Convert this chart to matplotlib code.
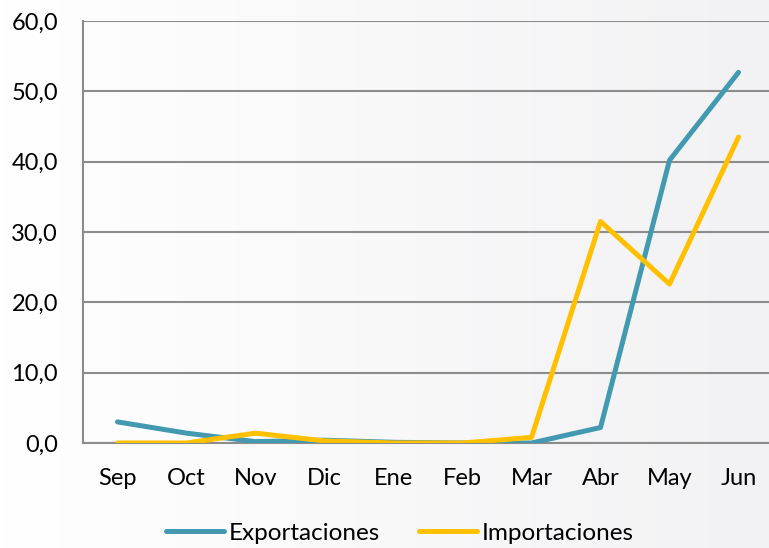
import numpy as np
import matplotlib.pyplot as plt
from matplotlib.colors import LinearSegmentedColormap
from matplotlib.ticker import FuncFormatter

meses = ['Sep', 'Oct', 'Nov', 'Dic', 'Ene', 'Feb', 'Mar', 'Abr', 'May', 'Jun']
exportaciones = [3.0, 1.4, 0.2, 0.4, 0.1, 0.0, 0.0, 2.2, 40.2, 52.7]
importaciones = [0.0, 0.0, 1.4, 0.3, 0.0, 0.0, 0.8, 31.5, 22.6, 43.5]

plt.rcParams['font.family'] = ['Lato', 'DejaVu Sans']

fig = plt.figure(figsize=(7.69, 5.48), dpi=100)

# fondo degradado blanco -> gris claro
bg = fig.add_axes([0, 0, 1, 1], zorder=-10)
grad = np.linspace(0, 1, 256).reshape(1, -1)
bg.imshow(grad, aspect='auto', extent=[0, 1, 0, 1],
          cmap=LinearSegmentedColormap.from_list('g', ['#ffffff', '#f2f2f4']))
bg.axis('off')

# ejes: izquierda en x=83, arriba y=21, abajo y=443
ax = fig.add_axes([83 / 769, (548 - 443) / 548, 690 / 769, 422 / 548])
ax.patch.set_alpha(0)

x = np.arange(len(meses))
ax.plot(x, exportaciones, color='#4299B0', lw=3.6, solid_capstyle='round',
        solid_joinstyle='round', label='Exportaciones', zorder=3)
ax.plot(x, importaciones, color='#FFC000', lw=3.6, solid_capstyle='round',
        solid_joinstyle='round', label='Importaciones', zorder=3)

ax.set_xlim(-0.5, len(meses) - 0.5)
ax.set_ylim(0, 60)
ax.set_yticks(range(0, 61, 10))
ax.yaxis.set_major_formatter(FuncFormatter(lambda v, p: f'{v:.1f}'.replace('.', ',')))
ax.set_xticks(x)
ax.set_xticklabels(meses)
ax.grid(axis='y', color='#8c8c8c', lw=1.5)
ax.set_axisbelow(True)
for s in ['top', 'right']:
    ax.spines[s].set_visible(False)
ax.spines['left'].set_color('#8c8c8c')
ax.spines['left'].set_linewidth(1.5)
ax.spines['bottom'].set_color('#8c8c8c')
ax.spines['bottom'].set_linewidth(1.5)
ax.tick_params(length=0, labelsize=17, colors='black')
ax.tick_params(axis='x', pad=18)
ax.tick_params(axis='y', pad=18)

leg = fig.legend(loc='center', bbox_to_anchor=(0.52, 1 - 533 / 548), ncol=2,
                 frameon=False, fontsize=17.5, handlelength=2.4, handletextpad=0.2,
                 columnspacing=1.6)

fig.savefig('out.png', dpi=100)
